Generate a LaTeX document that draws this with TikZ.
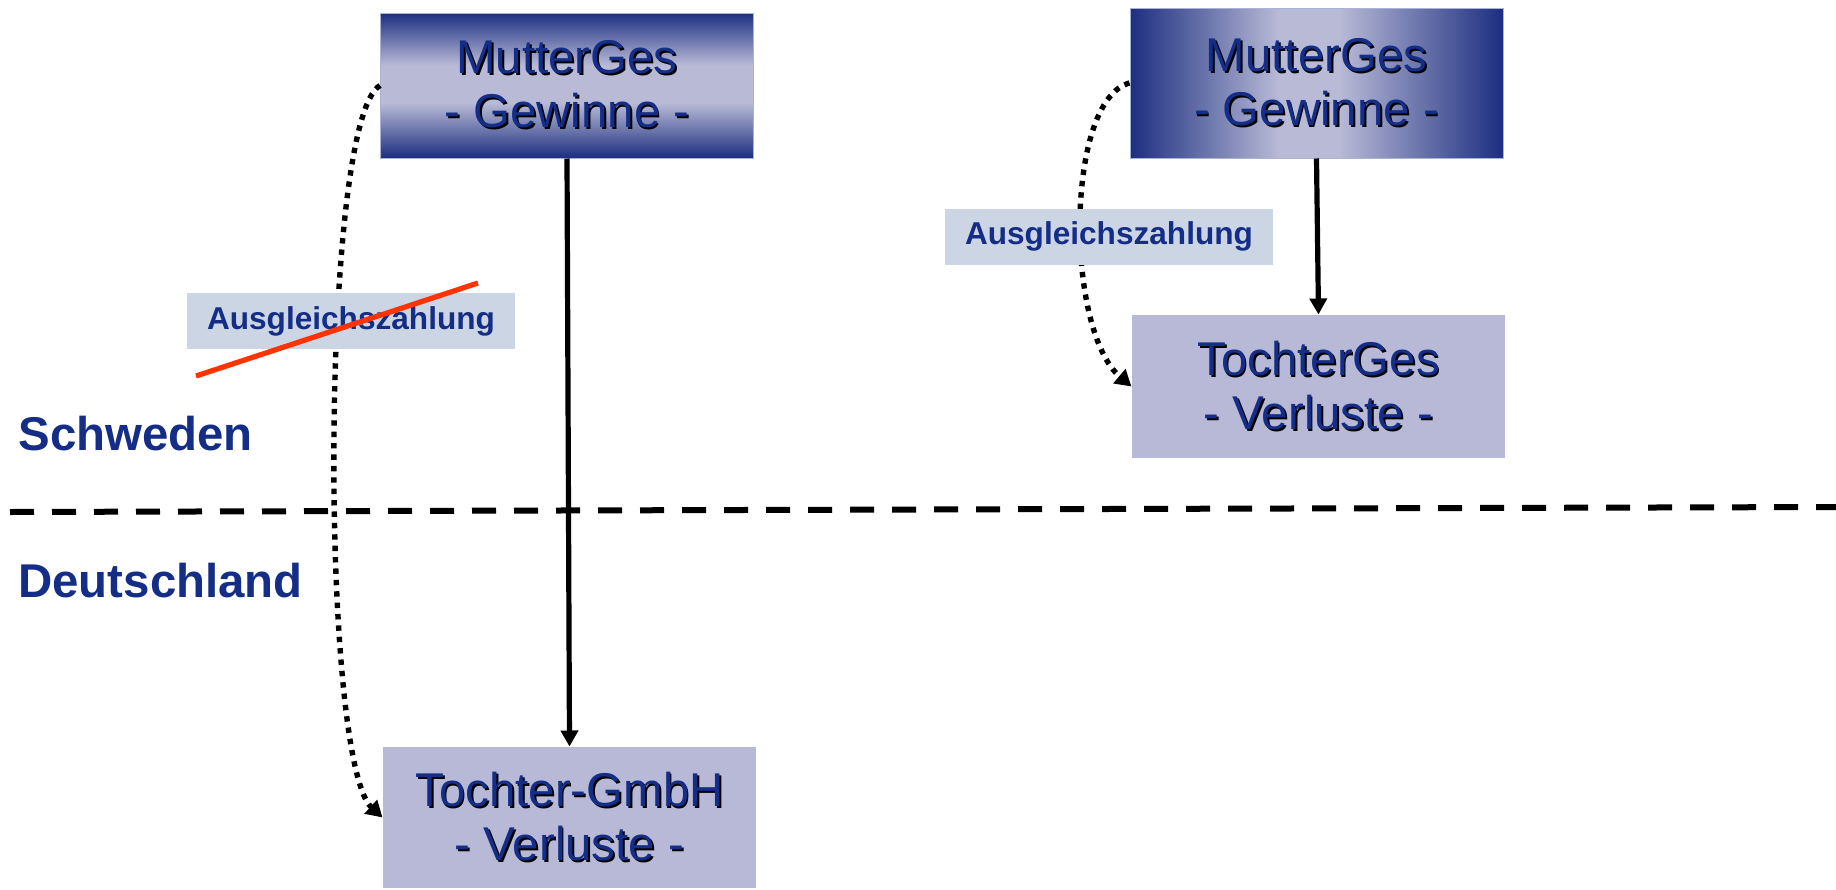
\documentclass[tikz,border=0pt]{standalone}
\usepackage{fontspec}
\setmainfont{Liberation Sans}
\usetikzlibrary{arrows.meta}

\definecolor{txtblue}{RGB}{20,45,135}
\definecolor{boxdark}{RGB}{28,46,128}
\definecolor{boxlight}{RGB}{184,186,214}
\definecolor{boxflat}{RGB}{184,185,214}
\definecolor{tagfill}{RGB}{204,213,227}
\definecolor{edgeline}{RGB}{170,178,215}
\definecolor{strikered}{RGB}{255,51,0}

% dark edges, broad light band in the middle (inner 25bp..75bp span the path)
\pgfdeclareverticalshading{boxvert}{100bp}{color(0bp)=(boxdark); color(25bp)=(boxdark);
  color(44bp)=(boxlight); color(57bp)=(boxlight); color(75bp)=(boxdark); color(100bp)=(boxdark)}
\pgfdeclarehorizontalshading{boxhoriz}{100bp}{color(0bp)=(boxdark); color(25bp)=(boxdark);
  color(45bp)=(boxlight); color(53bp)=(boxlight); color(75bp)=(boxdark); color(100bp)=(boxdark)}

% text with a small black drop shadow
\newcommand\shadowed[1]{\leavevmode\rlap{\kern0.9pt\raisebox{-0.9pt}{\textcolor{black}{#1}}}#1}

\begin{document}
\begin{tikzpicture}[x=0.5pt,y=-0.5pt,
  firm/.style={line width=0.5pt, minimum width=186.5pt, minimum height=72.5pt,
    inner sep=0pt, align=center, text=txtblue,
    font=\fontsize{23.7}{27}\selectfont},
  vgrad/.style={firm, draw=edgeline, shading=boxvert},
  hgrad/.style={firm, draw=edgeline, shading=boxhoriz},
  flat/.style={firm, fill=boxflat},
  tag/.style={fill=tagfill, text=txtblue, font=\bfseries\fontsize{15.8}{18}\selectfont,
    minimum width=164pt, minimum height=28pt, inner sep=0pt},
  region/.style={text=txtblue, font=\bfseries\fontsize{23.7}{27}\selectfont,
    anchor=base west, inner sep=0pt},
  flow/.style={line width=2.6pt, -{Triangle[length=8pt,width=8.5pt]}},
  dotflow/.style={line width=2.7pt, dash pattern=on 2.7pt off 3pt,
    -{Triangle[length=8pt,width=9pt]}},
  border/.style={line width=3pt, dash pattern=on 12pt off 9pt},
  cross/.style={draw=strikered, line width=2.6pt}]

\useasboundingbox (0,0) rectangle (1836,889);

% companies
\node[vgrad] (m1) at (567,85.5) {\shadowed{MutterGes}\\\shadowed{- Gewinne -}};
\node[flat, minimum height=70.5pt] (t1) at (569.5,817.5) {\shadowed{Tochter-GmbH}\\\shadowed{- Verluste -}};
\node[hgrad, minimum height=75pt] (m2) at (1316.5,83) {\shadowed{MutterGes}\\\shadowed{- Gewinne -}};
\node[flat, minimum height=71.5pt] (t2) at (1318.5,386.5) {\shadowed{TochterGes}\\\shadowed{- Verluste -}};

% payment flows (dotted)
\draw[dotflow] (m1.west) .. controls (320,120) and (320,760) .. (t1.west);
\draw[dotflow] (m2.west) .. controls (1065,100) and (1065,330) .. (t2.west);

% ownership
\draw[flow] (m1.south) -- (t1.north);
\draw[flow] (m2.south) -- (t2.north);

% border between the countries
\coordinate (bl) at (10,512);
\coordinate (br) at (1836,507);
\draw[border] (bl) -- (br);

% labels
\node[tag] (a1) at (351,321) {Ausgleichszahlung};
\node[tag] (a2) at (1109,236.5) {Ausgleichszahlung};

\coordinate (s1) at (196,376);
\coordinate (s2) at (478,283);
\draw[cross] (s1) -- (s2);

\node[region] (se) at (18,450) {Schweden};
\node[region] (de) at (18,597) {Deutschland};
\end{tikzpicture}
\end{document}
